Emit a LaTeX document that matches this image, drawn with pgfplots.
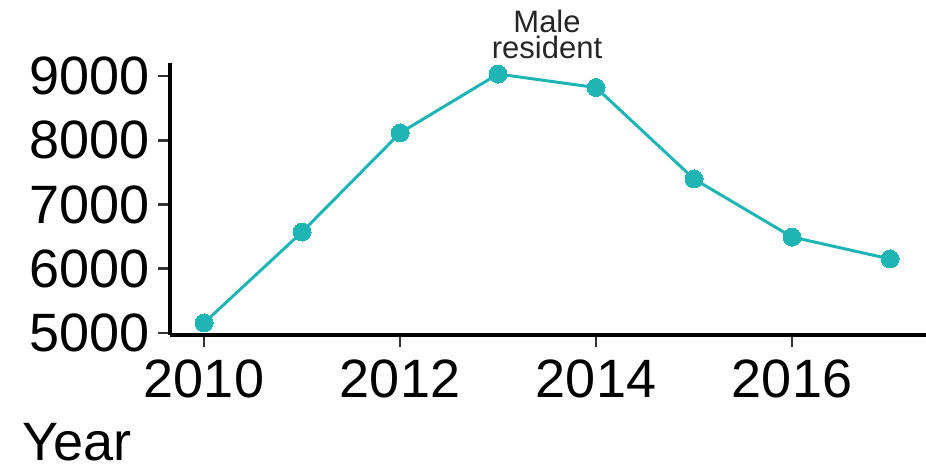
\documentclass[border=0pt]{standalone}
\usepackage{pgfplots}
\pgfplotsset{compat=1.18}
\usepackage{fontspec}
\setmainfont{Liberation Sans}
\definecolor{teal1}{HTML}{1FB5B5}
\definecolor{tickgray}{HTML}{333333}

\begin{document}
\begin{tikzpicture}
\path[use as bounding box] (-85pt,-66.5pt) rectangle (378pt,167.5pt);
\begin{axis}[
    scale only axis,
    width=378pt, height=136pt,
    xmin=2009.653, xmax=2017.367,
    ymin=4969, ymax=9202,
    axis lines=left,
    axis line style={-, line width=1.9pt, black},
    xtick={2010,2012,2014,2016},
    ytick={5000,6000,7000,8000,9000},
    tick align=outside,
    major tick length=6pt,
    tick style={line width=1.4pt, tickgray},
    /pgf/number format/assume math mode=true,
    /pgf/number format/1000 sep={},
    tick label style={font=\fontsize{27}{30}\selectfont, text=black, inner sep=0pt},
    xticklabel style={yshift=-6pt},
    yticklabel style={xshift=-4pt},
    clip=false,
]
\addplot[teal1, line width=1.5pt, mark=*, mark size=4.5pt, mark options={fill=teal1, draw=teal1, line width=0pt}]
coordinates {
(2010,5156) (2011,6572) (2012,8113) (2013,9030)
(2014,8820) (2015,7397) (2016,6494) (2017,6152)
};
\node[anchor=base, align=center, inner sep=0pt, font=\fontsize{15.5}{13}\selectfont, text=black!85]
  at (axis cs:2013.5,9265) {Male\\resident};
\end{axis}
\node[anchor=base west, inner sep=0pt, font=\fontsize{27}{30}\selectfont] at (-74pt,-62.5pt) {Year};
\end{tikzpicture}
\end{document}
